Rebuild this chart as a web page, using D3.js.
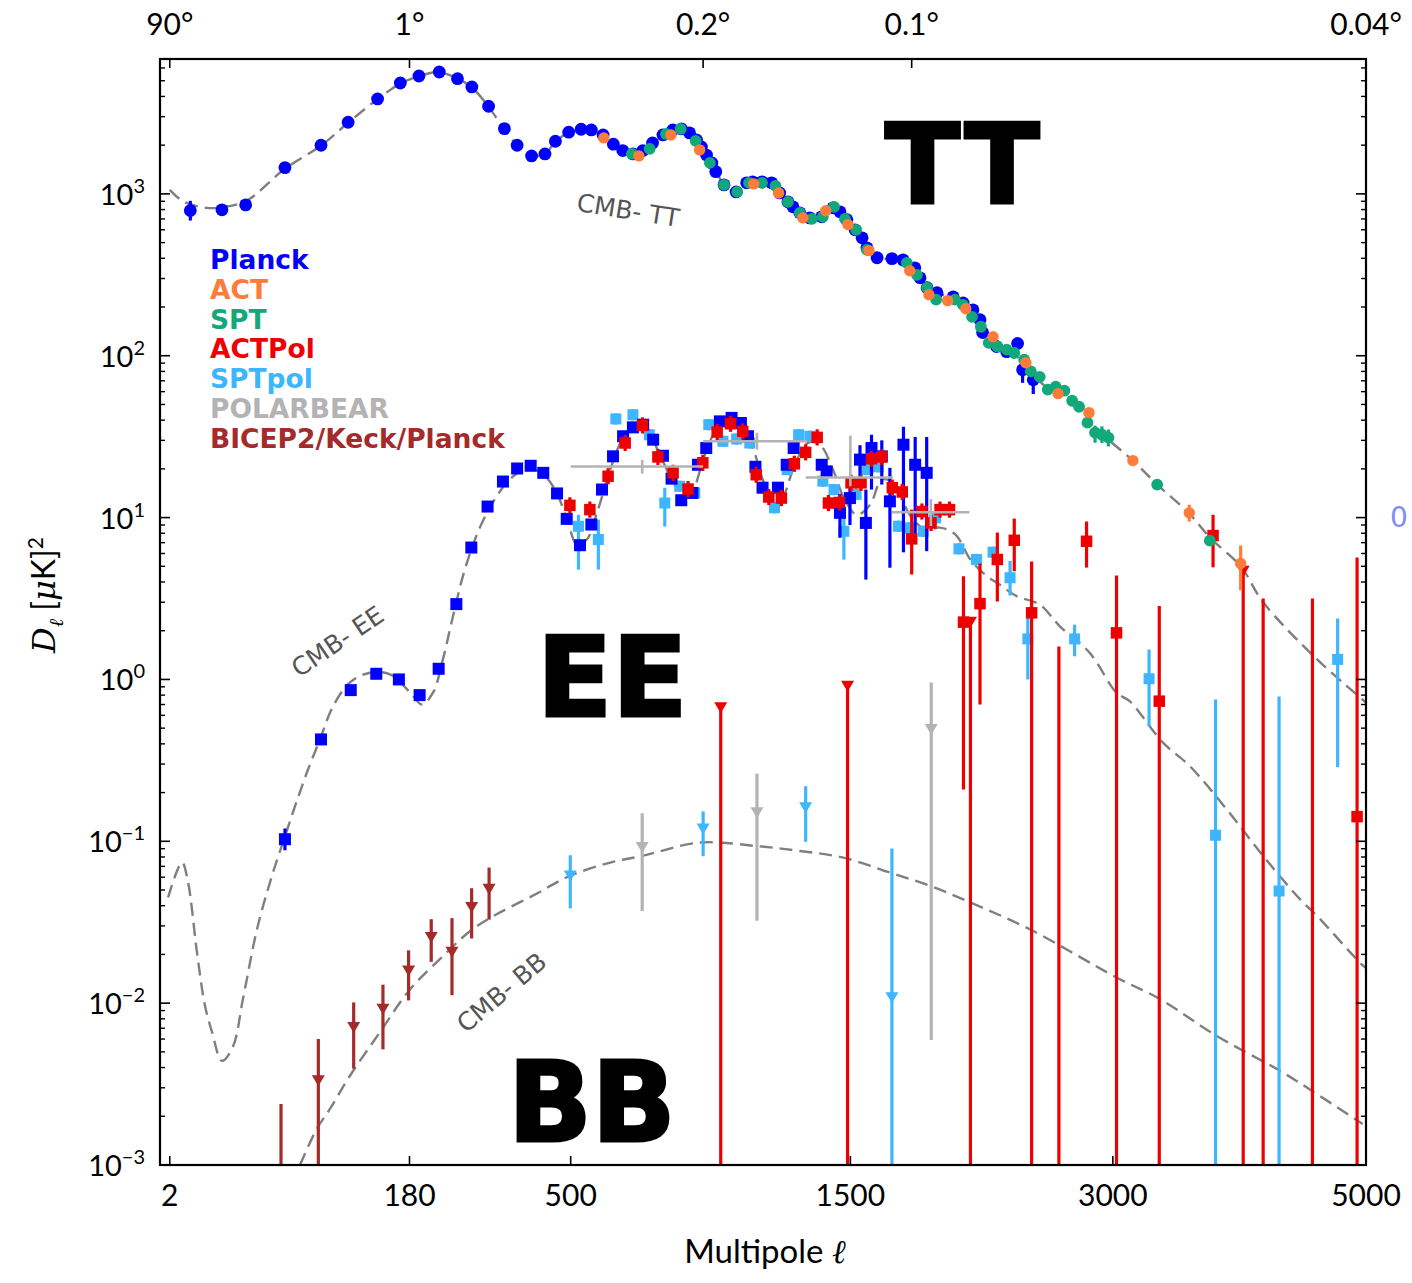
<!DOCTYPE html>
<html><head><meta charset="utf-8">
<script src="https://cdn.jsdelivr.net/npm/d3@7"></script>
<style>body{margin:0;background:#fff}</style>
</head><body><svg id="c" width="1412" height="1283"></svg>
<script>
// ---------------- DATA ----------------
const ellTicks = [2, 180, 500, 1500, 3000, 5000];
const angleTickLabels = ["90°", "1°", "0.2°", "0.1°", "0.04°"];
const angleTickElls = [2, 180, 900, 1800, 5000];
const yTickExponents = [3, 2, 1, 0, -1, -2, -3];
const legendNames = ["Planck", "ACT", "SPT", "ACTPol", "SPTpol", "POLARBEAR", "BICEP2/Keck/Planck"];
const legendColors = ["#0000ff", "#ff7b3a", "#12a87a", "#ee0000", "#3db6ff", "#b3b3b3", "#a52a2a"];

// theory spectra [ell, D]
const theoryTT = [[2,1059],[4,900],[9.5,820],[15,830],[25,910],[47,1420],[76,1980],[103,2750],[137,3850],[167,4800],[195,5350],[224,5650],[255,5200],[283,4550],[315,3450],[347,2500],[374,2000],[406,1716],[437,1766],[462,2100],[495,2400],[527,2500],[554,2480],[586,2310],[615,2030],[642,1840],[672,1766],[702,1851],[732,2065],[765,2313],[797,2483],[826,2518],[853,2382],[877,2154],[888,1870],[931,1553],[975,1137],[1020,1030],[1060,1170],[1120,1186],[1180,1105],[1225,893],[1275,764],[1318,711],[1370,722],[1425,820],[1475,701],[1527,600],[1578,451],[1627,403],[1700,396],[1756,385],[1843,303],[1933,245],[2030,225],[2120,184],[2185,145],[2270,114],[2370,102],[2470,80],[2575,63],[2680,58],[2775,48],[2926,33],[3138,22.5],[3310,16],[3540,10.7],[3710,7.4],[3940,5.0],[4120,3.0],[4570,1.33],[5000,0.72]];
const theoryEE = [[1.8,0.045],[3.8,0.074],[4.9,0.0566],[6.9,0.0206],[9.0,0.0096],[11.1,0.0066],[14.4,0.0044],[18.7,0.0054],[23.1,0.0106],[30.2,0.0286],[37.7,0.0558],[46.1,0.0986],[64.2,0.267],[75.4,0.426],[87.5,0.681],[105,0.958],[127.7,1.10],[153,1.074],[181,0.831],[198.5,0.70],[216,0.831],[232,1.33],[249,2.45],[270,4.77],[298,8.67],[327,12.9],[358,17.2],[391,19.8],[425,19.2],[461,14.9],[491,9.72],[516,6.81],[542,7.32],[572,11.2],[606,19.8],[640,30.3],[678,37.5],[717,33.9],[755,24.5],[794,17.2],[831,13.9],[864,14.9],[900,22.8],[942,33.9],[986,40.3],[1034,37.5],[1079,28.2],[1123,17.2],[1163,12.4],[1204,13.5],[1253,21.2],[1311,29.0],[1362,28.2],[1420,19.8],[1474,12.9],[1530,10.4],[1593,12.0],[1651,17.2],[1715,16.0],[1790,10.4],[1871,8.43],[1949,8.67],[2033,7.85],[2115,5.51],[2198,4.45],[2283,3.86],[2384,3.27],[2525,2.90],[2651,2.13],[2845,1.46],[3025,0.828],[3116,0.734],[3352,0.407],[3548,0.292],[3829,0.158],[4120,0.0812],[4424,0.0439],[4570,0.0346],[4945,0.0178],[5000,0.0165]];
const theoryBB = [[58.6,0.001],[72.5,0.00167],[84.6,0.00222],[105,0.00356],[140,0.00662],[181,0.0122],[227,0.0187],[280,0.0279],[331,0.0354],[410,0.0463],[498,0.0611],[606,0.0739],[700,0.0812],[888,0.0982],[1097,0.0935],[1275,0.0871],[1467,0.0793],[1690,0.0641],[1896,0.053],[2096,0.0428],[2464,0.0286],[3025,0.0144],[3330,0.0106],[3752,0.00628],[4257,0.00382],[4570,0.00274],[4970,0.00179]];

// TT measurements [ell, D, errLow, errHigh]
const planckTT = [[5.4,789,684,906],[14.4,797],[24.4,855],[47.5,1453],[76.3,1998],[103,2771],[137,3858],[167,4842],[194,5351],[226,5662],[257,5149],[283,4577],[315,3478],[347,2530],[374,1998],[406,1716],[437,1766],[462,2115],[495,2404],[527,2507],[554,2483],[586,2313],[615,2027],[642,1851],[672,1766],[702,1851],[732,2065],[765,2313],[797,2483],[826,2518],[853,2382],[877,2154],[894,1950],[912,1737],[931,1553],[945,1372],[975,1137],[1020,1028],[1060,1170],[1083,1186],[1120,1186],[1158,1170],[1191,1013],[1225,893],[1246,832],[1275,764],[1318,711],[1370,722],[1421,820],[1452,775],[1484,692],[1522,600],[1555,535],[1578,464],[1627,403],[1700,398],[1756,391],[1816,349],[1843,303],[1880,263],[1933,245],[2020,231],[2075,212],[2130,192],[2170,167],[2185,139],[2265,114],[2325,106],[2390,119],[2420,82,68,95],[2485,71,58,80]];
const actTT = [[588,2217],[690,1716],[791,2313],[888,1870],[1087,1153],[1187,1013],[1288,711],[1388,786],[1489,646],[1588,446],[1790,335],[1890,238],[1990,219],[2090,195],[2245,131],[2440,90.5],[2640,58.3],[2840,44.5],[3138,22.5],[3545,10.7,9.45,12.0],[3940,5.2,3.56,6.72]];
const sptTT = [[669,1766],[723,1897],[775,2345],[823,2518],[874,2125],[924,1553],[975,1137],[1024,1028],[1069,1170],[1120,1170],[1174,1120],[1225,893],[1275,764],[1327,700],[1375,722],[1425,832],[1475,700],[1527,600],[1578,451],[1775,375],[1827,316],[1880,263],[1928,222],[2030,222],[2075,206],[2125,174],[2175,151],[2220,120],[2270,114],[2325,109],[2370,104],[2430,94.5],[2470,80],[2525,74],[2575,61.7],[2625,64.4],[2680,60.8],[2730,52.7],[2775,48.4],[2830,38.6],[2880,33.5,29,37],[2926,32.5,28.9,36.6],[2970,31.2,27.5,35],[3310,16],[3700,7.2]];

// EE measurements
const planckEE = [[47.5,0.103,0.088,0.120],[76.3,0.426],[105.8,0.859],[135.4,1.084],[165,1.0],[195,0.80],[225,1.164],[255,2.92],[282,6.53],[313,11.7],[344,16.7],[374,20.1],[404,20.9],[433,18.9],[466,14.1],[490,9.82],[524,6.75],[554,9.06],[583,14.9],[614,23.9],[643,31.8],[672,36.1],[703,37.5],[734,30.3],[765,24.1],[793,17.4],[825,12.8],[863,14.2],[882,21.2],[911,26.9],[960,39.3],[1003,41.3],[1038,38.4],[1065,31.8],[1094,20.6],[1122,15.3],[1184,15.3],[1220,21.2],[1249,26.9],[1370,21.2],[1392,19.3],[1452,10.7,7.5,14],[1498,13.2,9,17],[1545,22.8,16,28],[1573,9.27,4.14,14.9],[1600,26.9,14.9,32.5],[1650,23.9,16,30],[1690,12.6,4.9,20.3],[1758,28.2,6.1,36.4],[1818,21.2,7.1,31.5],[1878,18.9,6.2,31.5]];
const actpolEE = [[498,11.9],[550,11.2],[600,18.0],[649,28.9],[701,37.1],[749,23.7],[798,18.9],[848,15.0],[899,21.8],[950,33.8],[999,38.0],[1045,34.1],[1097,18.4],[1147,13.4],[1198,13.2],[1252,21.5],[1300,25.3],[1350,31.3],[1400,12.3],[1450,12.4],[1503,16.4],[1550,16.4],[1600,23.1],[1650,23.7],[1702,15.3],[1752,14.4],[1800,7.39,4.45,11.2],[1853,10.9],[1901,9.27],[1949,11.2],[2000,11.2],[2077,2.26,0.209,4.34],[2170,2.94,0.70,5.2],[2270,5.51,3.03,8.08],[2370,7.24,4.66,9.86],[2475,2.58,1e-6,5.35],[2824,7.14,4.91,9.46],[3025,1.94,1e-6,4.39],[3325,0.734,1e-6,2.84],[3725,7.74,4.93,10.4],[4920,0.142,1e-6,5.66]];
const actpolLimits = [[963,0.668],[1487,0.909],[2116,2.26],[3960,4.66]];
const actpolBarsOnly = [[2645,1.6],[4120,3.16],[4530,3.16]];
const sptpolEE = [[520,8.84,4.77,10.4],[573,7.32,4.77,9.7],[622,40.7],[672,43.2],[722,32.5],[771,12.3,8.8,15.3],[820,15.6],[871,14.2],[920,37.5],[971,29.6],[1022,30.6],[1072,28.9],[1122,15.3],[1170,11.5],[1222,19.8],[1270,32.5],[1318,31.8],[1375,16.8],[1425,14.9],[1470,8.23,5.5,11],[1527,13.9],[1575,19.8],[1632,20.6],[1733,8.84],[1790,8.64],[1860,8.23],[1925,9.96],[2052,6.41],[2150,5.51],[2245,6.11],[2345,4.25,3.3,5.4],[2452,1.78,1.0,2.59],[2746,1.78,1.39,2.18],[3252,1.01,0.513,1.53],[3744,0.109,1e-6,0.753],[4250,0.0493,1e-6,0.785],[4748,1.33,0.287,2.38]];
// POLARBEAR EE bandpowers: [ellCenter, ellMin, ellMax, D, errLow, errHigh]
const polarbearEE = [[700,500,900,20.7,18.7,22.7],[1100,900,1305,29.6,26.3,33.4],[1500,1300,1705,17.7,15.6,32.1],[1900,1700,2110,10.8,8.86,13.0]];

// BB measurements (upper-limit style markers)
const bicepBB = [[73.9,0.00331,1e-6,0.006],[109,0.00708,0.00394,0.0101],[143.8,0.00918,0.00518,0.0130],[178.7,0.0158,0.0104,0.0212],[213,0.0254,0.0180,0.0330],[247.4,0.0206,0.0112,0.0335],[282.6,0.039,0.0251,0.0513],[316,0.0506,0.0328,0.0688]];
const bicepBarsOnly = [[44.8,0.00238]];
const sptpolBB = [[499,0.0611,0.0385,0.082],[900,0.119,0.0809,0.153],[1300,0.161,0.0993,0.219],[1700,0.0108,1e-6,0.0904]];
const polarbearBB = [[700,0.0914,0.0371,0.149],[1100,0.150,0.0323,0.262],[1902,0.491,0.00593,0.958]];

// ---------------- CHART ----------------
const W = 1412, H = 1283;
const M = {left: 160, right: 1366, top: 59, bottom: 1165};
const x = d3.scalePow().exponent(0.45).domain([1, 5000]).range([M.left, M.right]);
const y = d3.scaleLog().domain([1e-3, 6813]).range([M.bottom, M.top]);

const svg = d3.select("#c");
svg.append("rect").attr("width", W).attr("height", H).attr("fill", "#fff");
svg.append("defs").append("clipPath").attr("id", "clip").append("rect")
  .attr("x", M.left).attr("y", M.top).attr("width", M.right - M.left).attr("height", M.bottom - M.top);
const plot = svg.append("g").attr("clip-path", "url(#clip)");

// theory curves
const line = d3.line().x(d => x(d[0])).y(d => y(d[1])).curve(d3.curveCatmullRom.alpha(0.5));
[theoryTT, theoryEE, theoryBB].forEach(t => {
  plot.append("path").attr("d", line(t)).attr("fill", "none")
    .attr("stroke", "#7f7f7f").attr("stroke-width", 2.4).attr("stroke-dasharray", "13,7");
});

const BOTTOM = 1e-6;
function errBars(data, color, width, defErr) {
  const g = plot.append("g");
  const rows = data.map(d => {
    let lo = d[2], hi = d[3];
    if (lo == null && defErr) { lo = d[1] / Math.pow(10, defErr); hi = d[1] * Math.pow(10, defErr); }
    return lo == null ? null : [d[0], lo, hi];
  }).filter(r => r);
  g.selectAll("line").data(rows).enter().append("line")
    .attr("x1", d => x(d[0])).attr("x2", d => x(d[0]))
    .attr("y1", d => y(Math.max(d[1], BOTTOM))).attr("y2", d => y(d[2]))
    .attr("stroke", color).attr("stroke-width", width);
}
function barsOnly(data, color, width) {
  plot.append("g").selectAll("line").data(data).enter().append("line")
    .attr("x1", d => x(d[0])).attr("x2", d => x(d[0]))
    .attr("y1", y(BOTTOM)).attr("y2", d => y(d[1]))
    .attr("stroke", color).attr("stroke-width", width);
}
function circles(data, color, r) {
  plot.append("g").selectAll("circle").data(data).enter().append("circle")
    .attr("cx", d => x(d[0])).attr("cy", d => y(d[1])).attr("r", r).attr("fill", color);
}
function squares(data, color, s) {
  plot.append("g").selectAll("rect").data(data).enter().append("rect")
    .attr("x", d => x(d[0]) - s / 2).attr("y", d => y(d[1]) - s / 2)
    .attr("width", s).attr("height", s).attr("fill", color);
}
function triangles(data, color, w, h) {
  plot.append("g").selectAll("path").data(data).enter().append("path")
    .attr("d", `M${-w/2},${-h/2}L${w/2},${-h/2}L0,${h/2}Z`)
    .attr("transform", d => `translate(${x(d[0])},${y(d[1])})`).attr("fill", color);
}

// BB
errBars(bicepBB, legendColors[6], 3.2); barsOnly(bicepBarsOnly, legendColors[6], 3.2); triangles(bicepBB, legendColors[6], 13, 11);
errBars(polarbearBB, legendColors[5], 3.2); triangles(polarbearBB, legendColors[5], 13, 11);
errBars(sptpolBB, legendColors[4], 3.2); triangles(sptpolBB, legendColors[4], 13, 11);

// EE
errBars(sptpolEE, legendColors[4], 3.2, 0.035); squares(sptpolEE, legendColors[4], 11);
errBars(planckEE, legendColors[0], 3.2); squares(planckEE, legendColors[0], 12);
errBars(actpolEE, legendColors[3], 3.2, 0.05); squares(actpolEE, legendColors[3], 11.5);
barsOnly(actpolLimits, legendColors[3], 3.2); triangles(actpolLimits, legendColors[3], 13, 11);
barsOnly(actpolBarsOnly, legendColors[3], 3.2);
// POLARBEAR EE crosses
const pbg = plot.append("g");
pbg.selectAll("line.h").data(polarbearEE).enter().append("line")
  .attr("x1", d => x(d[1])).attr("x2", d => x(d[2])).attr("y1", d => y(d[3])).attr("y2", d => y(d[3]))
  .attr("stroke", legendColors[5]).attr("stroke-width", 2.6);
pbg.selectAll("line.v").data(polarbearEE).enter().append("line")
  .attr("x1", d => x(d[0])).attr("x2", d => x(d[0])).attr("y1", d => y(d[4])).attr("y2", d => y(d[5]))
  .attr("stroke", legendColors[5]).attr("stroke-width", 2.6);

// TT
errBars(planckTT, legendColors[0], 3.2); circles(planckTT, legendColors[0], 6.4);
errBars(sptTT, legendColors[2], 3.2); circles(sptTT, legendColors[2], 5.9);
errBars(actTT, legendColors[1], 3.2); circles(actTT, legendColors[1], 5.7);

// ---------------- AXES ----------------
const axes = svg.append("g");
axes.append("rect").attr("x", M.left).attr("y", M.top).attr("width", M.right - M.left).attr("height", M.bottom - M.top)
  .attr("fill", "none").attr("stroke", "#000").attr("stroke-width", 2.2);

// y ticks (log, major + minor) left & right, inward
const yMajor = yTickExponents.map(e => Math.pow(10, e));
const yMinor = [];
yTickExponents.forEach(e => { for (let k = 2; k <= 9; k++) { const v = k * Math.pow(10, e); if (v < 6813) yMinor.push(v); } });
[[M.left, 1], [M.right, -1]].forEach(([x0, dir]) => {
  axes.selectAll(null).data(yMajor).enter().append("line")
    .attr("x1", x0).attr("x2", x0 + dir * 10).attr("y1", d => y(d)).attr("y2", d => y(d)).attr("stroke", "#000").attr("stroke-width", 1.6);
  axes.selectAll(null).data(yMinor).enter().append("line")
    .attr("x1", x0).attr("x2", x0 + dir * 5).attr("y1", d => y(d)).attr("y2", d => y(d)).attr("stroke", "#000").attr("stroke-width", 1.4);
});
// y tick labels
const ylab = axes.selectAll(null).data(yTickExponents).enter().append("text")
  .attr("x", 145).attr("y", d => y(Math.pow(10, d)) + 11).attr("text-anchor", "end")
  .attr("font-family", "Lato, 'DejaVu Sans', sans-serif").attr("font-size", 29).attr("fill", "#000");
ylab.append("tspan").text("10");
ylab.append("tspan").attr("dy", -12).attr("font-size", 20).text(d => d < 0 ? "\u2212" + (-d) : d);

// bottom ticks
axes.selectAll(null).data(ellTicks).enter().append("line")
  .attr("x1", d => x(d)).attr("x2", d => x(d)).attr("y1", M.bottom).attr("y2", M.bottom - 9).attr("stroke", "#000").attr("stroke-width", 1.6);
axes.selectAll(null).data(ellTicks).enter().append("text")
  .attr("x", d => x(d)).attr("y", 1206).attr("text-anchor", "middle")
  .attr("font-family", "Lato, 'DejaVu Sans', sans-serif").attr("font-size", 30).text(d => d);
// top ticks (angular scale)
axes.selectAll(null).data(angleTickElls).enter().append("line")
  .attr("x1", d => x(d)).attr("x2", d => x(d)).attr("y1", M.top).attr("y2", M.top + 9).attr("stroke", "#000").attr("stroke-width", 1.6);
axes.selectAll(null).data(angleTickElls).enter().append("text")
  .attr("x", d => x(d)).attr("y", 35).attr("text-anchor", "middle")
  .attr("font-family", "Lato, 'DejaVu Sans', sans-serif").attr("font-size", 30).text((d, i) => angleTickLabels[i]);

// axis titles
axes.append("text").attr("x", 765).attr("y", 1263).attr("text-anchor", "middle")
  .attr("font-family", "Lato, 'DejaVu Sans', sans-serif").attr("font-size", 33)
  .html('Multipole <tspan font-family="DejaVu Serif" font-style="italic">ℓ</tspan>');
const yt = axes.append("text").attr("transform", "translate(55,595) rotate(-90)").attr("text-anchor", "middle")
  .attr("font-family", "Lato, 'DejaVu Sans', sans-serif").attr("font-size", 32);
yt.append("tspan").attr("font-family", "'DejaVu Serif', serif").attr("font-style", "italic").text("D");
yt.append("tspan").attr("font-size", 20).attr("dy", 8).attr("font-family", "'DejaVu Serif', serif").attr("font-style", "italic").text("ℓ");
yt.append("tspan").attr("dy", -8).text(" [");
yt.append("tspan").attr("font-family", "'DejaVu Serif', serif").attr("font-style", "italic").text("μ");
yt.append("tspan").text("K]");
yt.append("tspan").attr("dy", -12).attr("font-size", 21).text("2");

// legend
svg.append("g").selectAll("text").data(legendNames).enter().append("text")
  .attr("x", 210).attr("y", (d, i) => 269 + i * 29.8)
  .attr("font-family", "'DejaVu Sans', sans-serif").attr("font-weight", "bold").attr("font-size", 26.5)
  .attr("fill", (d, i) => legendColors[i]).text(d => d);

// big spectrum labels
const big = [["TT", 885, 203], ["EE", 537, 716], ["BB", 508, 1141]];
svg.append("g").selectAll("text").data(big).enter().append("text")
  .attr("x", d => d[1]).attr("y", d => d[2]).text(d => d[0])
  .attr("font-family", "'DejaVu Sans', sans-serif").attr("font-weight", "bold").attr("font-size", 110)
  .attr("letter-spacing", d => d[0] === "TT" ? 2 : 0)
  .attr("fill", "#000").attr("stroke", "#000").attr("stroke-width", 3);

// theory labels
const tl = [["CMB- TT", 628, 211, 9], ["CMB- EE", 338, 642, -34], ["CMB- BB", 502, 993, -40]];
svg.append("g").selectAll("text").data(tl).enter().append("text")
  .attr("transform", d => `translate(${d[1]},${d[2]}) rotate(${d[3]})`).attr("text-anchor", "middle").attr("dy", 8)
  .attr("font-family", "'DejaVu Sans', sans-serif").attr("font-size", 25).attr("fill", "#555").text(d => d[0]);

// stray glyph at the right edge
svg.append("text").attr("x", 1390).attr("y", 527).attr("font-family", "'DejaVu Sans', sans-serif")
  .attr("font-size", 28).attr("fill", "#6b78ff").attr("opacity", 0.85).text("0");
</script></body></html>
